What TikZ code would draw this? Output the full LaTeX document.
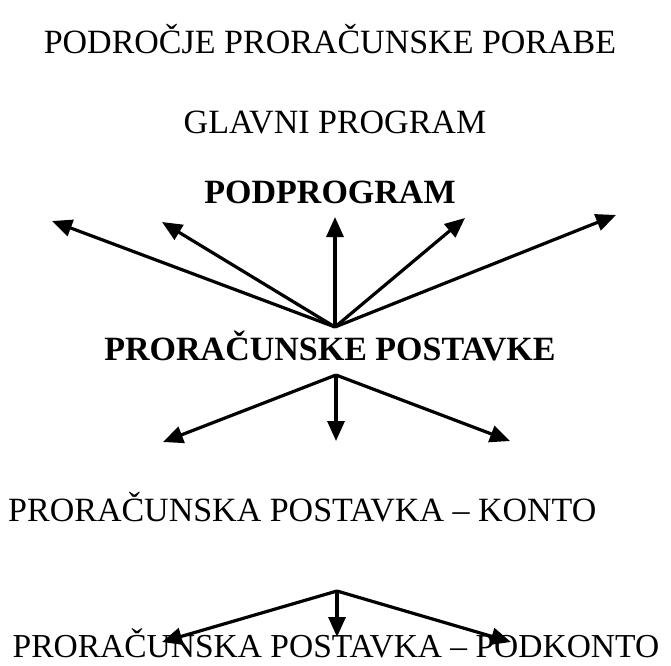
\documentclass[tikz,border=0pt]{standalone}
\usepackage{fontspec}
\setmainfont{Liberation Serif}
\usetikzlibrary{arrows.meta}
\tikzset{
  label/.style={inner sep=0pt, anchor=base, font=\fontsize{34}{40}\selectfont},
  boldlabel/.style={label, font=\fontsize{34}{40}\selectfont\bfseries},
  arr/.style={line width=3.2pt, -{Triangle[length=20pt,width=17pt]}}
}
\begin{document}
\begin{tikzpicture}[x=1pt,y=-1pt]
\useasboundingbox (0,0) rectangle (671,665);
\node[label] (podrocje) at (330,53) {PODROČJE PRORAČUNSKE PORABE};
\node[label] (glavni) at (335,133) {GLAVNI PROGRAM};
\node[boldlabel] (podprogram) at (330,203) {PODPROGRAM};
\node[boldlabel] (postavke) at (330,360) {PRORAČUNSKE POSTAVKE};
\node[label, anchor=base west] (konto) at (8,521) {PRORAČUNSKA POSTAVKA -- KONTO};
\node[label, font=\fontsize{33.5}{40}\selectfont] (podkonto) at (336,657) {PRORAČUNSKA POSTAVKA -- PODKONTO};

\coordinate (o1) at (335,327);
\coordinate (t1) at (52,221);
\coordinate (t2) at (162,222);
\coordinate (t3) at (335,217);
\coordinate (t4) at (465,218);
\coordinate (t5) at (616,215);
\foreach \t in {t1,t2,t3,t4,t5} \draw[arr] (o1) -- (\t);

\coordinate (o2) at (336,375);
\coordinate (u1) at (163,442);
\coordinate (u2) at (336,441);
\coordinate (u3) at (510,441);
\foreach \t in {u1,u2,u3} \draw[arr] (o2) -- (\t);

\coordinate (o3) at (337,591);
\coordinate (v1) at (162,642);
\coordinate (v2) at (337,637);
\coordinate (v3) at (511,642);
\foreach \t in {v1,v2,v3} \draw[arr] (o3) -- (\t);
\end{tikzpicture}
\end{document}
